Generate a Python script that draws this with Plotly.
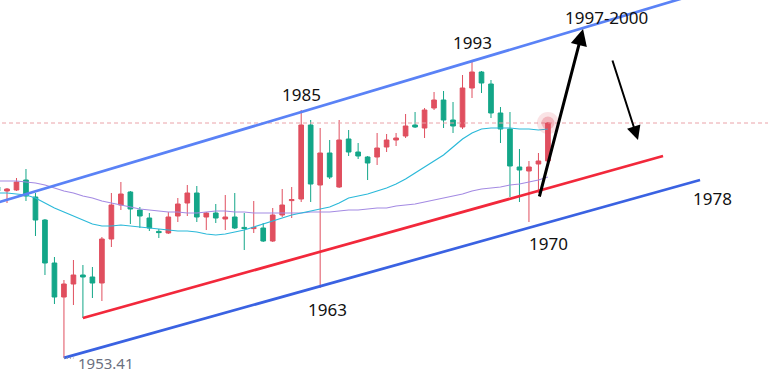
import plotly.graph_objects as go

# ---------------- data ----------------
idx = list(range(-1, 58))

open_ = [2808, 2788, 2793, 2843, 2758, 2643, 2428, 2258, 2323, 2368,
         2358, 2328, 2548, 2718, 2783, 2693, 2653, 2586, 2578, 2663,
         2728, 2778, 2658, 2678, 2648, 2658, 2606, 2600, 2603, 2538,
         2668, 2740, 2748, 3118, 2818, 2978, 2808, 3048, 2983, 2958,
         2958, 3008, 3043, 3063, 3118, 3103, 3203, 3243, 3143, 3108,
         3303, 3383, 3323, 3178, 3098, 2908, 2888, 2923, 2938]
high = [2818, 2803, 2853, 2898, 2778, 2648, 2458, 2343, 2443, 2418,
        2408, 2558, 2778, 2833, 2788, 2708, 2678, 2598, 2683, 2753,
        2818, 2813, 2683, 2723, 2768, 2778, 2678, 2738, 2628, 2703,
        2798, 2808, 3193, 3143, 3103, 3043, 3143, 3093, 3028, 2963,
        3078, 3073, 3078, 3173, 3183, 3203, 3283, 3288, 3233, 3368,
        3433, 3388, 3343, 3208, 3183, 2998, 2938, 2978, 3133]
low = [2778, 2728, 2788, 2738, 2563, 2368, 2223, 1953.41, 2218, 2153,
       2253, 2238, 2508, 2693, 2623, 2603, 2588, 2553, 2573, 2633,
       2663, 2633, 2593, 2628, 2593, 2598, 2493, 2578, 2533, 2533,
       2658, 2653, 2733, 2733, 2303, 2848, 2803, 2963, 2948, 2843,
       2918, 2983, 3013, 3053, 3103, 3053, 3193, 3103, 3078, 3098,
       3253, 3278, 3153, 3028, 2758, 2733, 2633, 2778, 2933]
close = [2788, 2798, 2833, 2763, 2643, 2428, 2258, 2323, 2368, 2358,
         2328, 2548, 2718, 2773, 2698, 2663, 2603, 2580, 2658, 2723,
         2778, 2658, 2678, 2653, 2658, 2603, 2600, 2606, 2538, 2668,
         2718, 2745, 3118, 2823, 2978, 2858, 3043, 2983, 2963, 2928,
         3003, 3043, 3053, 3113, 3108, 3193, 3243, 3143, 3113, 3303,
         3383, 3328, 3178, 3098, 2913, 2893, 2908, 2938, 3128]

ma_short = [2778, 2778, 2773, 2768, 2753, 2728, 2703, 2683, 2663, 2643,
            2623, 2613, 2613, 2618, 2613, 2608, 2603, 2598, 2593, 2588,
            2588, 2583, 2573, 2568, 2573, 2583, 2593, 2608, 2623, 2638,
            2653, 2668, 2678, 2688, 2698, 2708, 2728, 2753, 2763, 2773,
            2788, 2803, 2823, 2848, 2878, 2908, 2938, 2968, 3008, 3048,
            3078, 3098, 3103, 3103, 3103, 3098, 3098, 3093, 3098]
ma_long = [2838, 2838, 2838, 2833, 2828, 2818, 2803, 2788, 2778, 2763,
           2753, 2738, 2728, 2718, 2708, 2698, 2693, 2688, 2683, 2683,
           2678, 2678, 2683, 2688, 2688, 2683, 2683, 2678, 2678, 2678,
           2678, 2678, 2678, 2683, 2683, 2683, 2688, 2693, 2693, 2698,
           2703, 2703, 2713, 2718, 2723, 2733, 2743, 2753, 2763, 2773,
           2788, 2798, 2803, 2808, 2818, 2823, 2833, 2843, 2858]

# trend lines (anchor points: candle index, price)
upper_x, upper_y = [-1, 72], [2730, 3763]
lower_x, lower_y = [6, 73.03], [1953.41, 2843]
red_x, red_y = [8, 69.13], [2153, 2963]

# arrows (tail -> head)
arrow_up = {"from": (56.06, 2753), "to": (60.70, 3598)}
arrow_down = {"from": (63.75, 3448), "to": (66.49, 3043)}

label_texts = ["1985", "1993", "1963", "1970", "1953.41", "1978", "1997-2000"]

# ---------------- styling ----------------
RED = "#e04f5f"
GREEN = "#13a688"
FONT = "Noto Sans"

fig = go.Figure()

# last price dashed line
fig.add_trace(go.Scatter(x=[-2, 82], y=[close[-1], close[-1]], mode="lines",
                         line=dict(color="#eaa2a8", width=1, dash="4px,3px"),
                         hoverinfo="skip"))

# moving averages
fig.add_trace(go.Scatter(x=idx, y=ma_long, mode="lines",
                         line=dict(color="#a48be3", width=1.2), hoverinfo="skip"))
fig.add_trace(go.Scatter(x=idx, y=ma_short, mode="lines",
                         line=dict(color="#2bb9d9", width=1.2), hoverinfo="skip"))

# candles
fig.add_trace(go.Candlestick(
    x=idx, open=open_, high=high, low=low, close=close,
    increasing=dict(line=dict(color=RED, width=1), fillcolor=RED),
    decreasing=dict(line=dict(color=GREEN, width=1), fillcolor=GREEN),
    whiskerwidth=0, hoverinfo="skip"))

# glow on last candle
fig.add_trace(go.Scatter(x=[idx[-1]], y=[close[-1]], mode="markers",
                         marker=dict(size=22, color="rgba(224,79,95,0.16)", line=dict(width=0)),
                         hoverinfo="skip"))
fig.add_trace(go.Scatter(x=[idx[-1]], y=[close[-1]], mode="markers",
                         marker=dict(size=13, color="rgba(224,79,95,0.3)", line=dict(width=0)),
                         hoverinfo="skip"))

# trend lines
fig.add_trace(go.Scatter(x=upper_x, y=upper_y, mode="lines",
                         line=dict(color="#5a82f6", width=2.7), hoverinfo="skip"))
fig.add_trace(go.Scatter(x=lower_x, y=lower_y, mode="lines",
                         line=dict(color="#3a62e2", width=2.7), hoverinfo="skip"))
fig.add_trace(go.Scatter(x=red_x, y=red_y, mode="lines",
                         line=dict(color="#f2283b", width=2.7), hoverinfo="skip"))

# small dotted leader next to the low label
fig.add_trace(go.Scatter(x=[idx[7], idx[8]], y=[low[7], low[7]], mode="lines",
                         line=dict(color="#8a8f9c", width=1.5, dash="1px,2px"),
                         hoverinfo="skip"))

annotations = []
black_font = dict(family=FONT, size=17, color="#111111")
gray_font = dict(family=FONT, size=15, color="#6b7080")

annotations.append(dict(x=31, y=high[32], text=label_texts[0], showarrow=False,
                        yanchor="bottom", yshift=2, font=black_font))
annotations.append(dict(x=49, y=high[50], text=label_texts[1], showarrow=False,
                        yanchor="bottom", yshift=6, font=black_font))
annotations.append(dict(x=33, y=low[34], text=label_texts[2], showarrow=False,
                        yanchor="top", yshift=-8, xshift=7, font=black_font))
annotations.append(dict(x=55, y=low[56], text=label_texts[3], showarrow=False,
                        yanchor="top", yshift=-8, xshift=20, font=black_font))
annotations.append(dict(x=6, y=low[7], text=label_texts[4], showarrow=False,
                        xanchor="left", yanchor="middle", xshift=12, yshift=-5, font=gray_font))
annotations.append(dict(x=lower_x[1], y=lower_y[1], text=label_texts[5], showarrow=False,
                        xanchor="left", yanchor="top", xshift=-9, yshift=-5, font=black_font))
annotations.append(dict(x=arrow_up["to"][0], y=arrow_up["to"][1], text=label_texts[6],
                        showarrow=False, xanchor="center", yanchor="middle",
                        xshift=23, yshift=12, font=black_font))

# arrows
annotations.append(dict(x=arrow_up["to"][0], y=arrow_up["to"][1],
                        ax=arrow_up["from"][0], ay=arrow_up["from"][1],
                        xref="x", yref="y", axref="x", ayref="y", text="",
                        showarrow=True, arrowhead=2, arrowsize=1.1, arrowwidth=3,
                        arrowcolor="#000000"))
annotations.append(dict(x=arrow_down["to"][0], y=arrow_down["to"][1],
                        ax=arrow_down["from"][0], ay=arrow_down["from"][1],
                        xref="x", yref="y", axref="x", ayref="y", text="",
                        showarrow=True, arrowhead=2, arrowsize=1.4, arrowwidth=2,
                        arrowcolor="#000000"))

fig.update_layout(
    width=768, height=392,
    margin=dict(l=0, r=0, t=0, b=0),
    paper_bgcolor="white", plot_bgcolor="white",
    showlegend=False,
    boxgap=0.3,
    annotations=annotations,
    xaxis=dict(range=[-0.7376, 80.19], visible=False, rangeslider=dict(visible=False),
               fixedrange=True),
    yaxis=dict(range=[1783, 3743], visible=False, fixedrange=True),
)

fig.write_html("out.html", config={"displayModeBar": False},
               post_script="document.body.style.margin='0px';document.body.style.overflow='hidden';")
